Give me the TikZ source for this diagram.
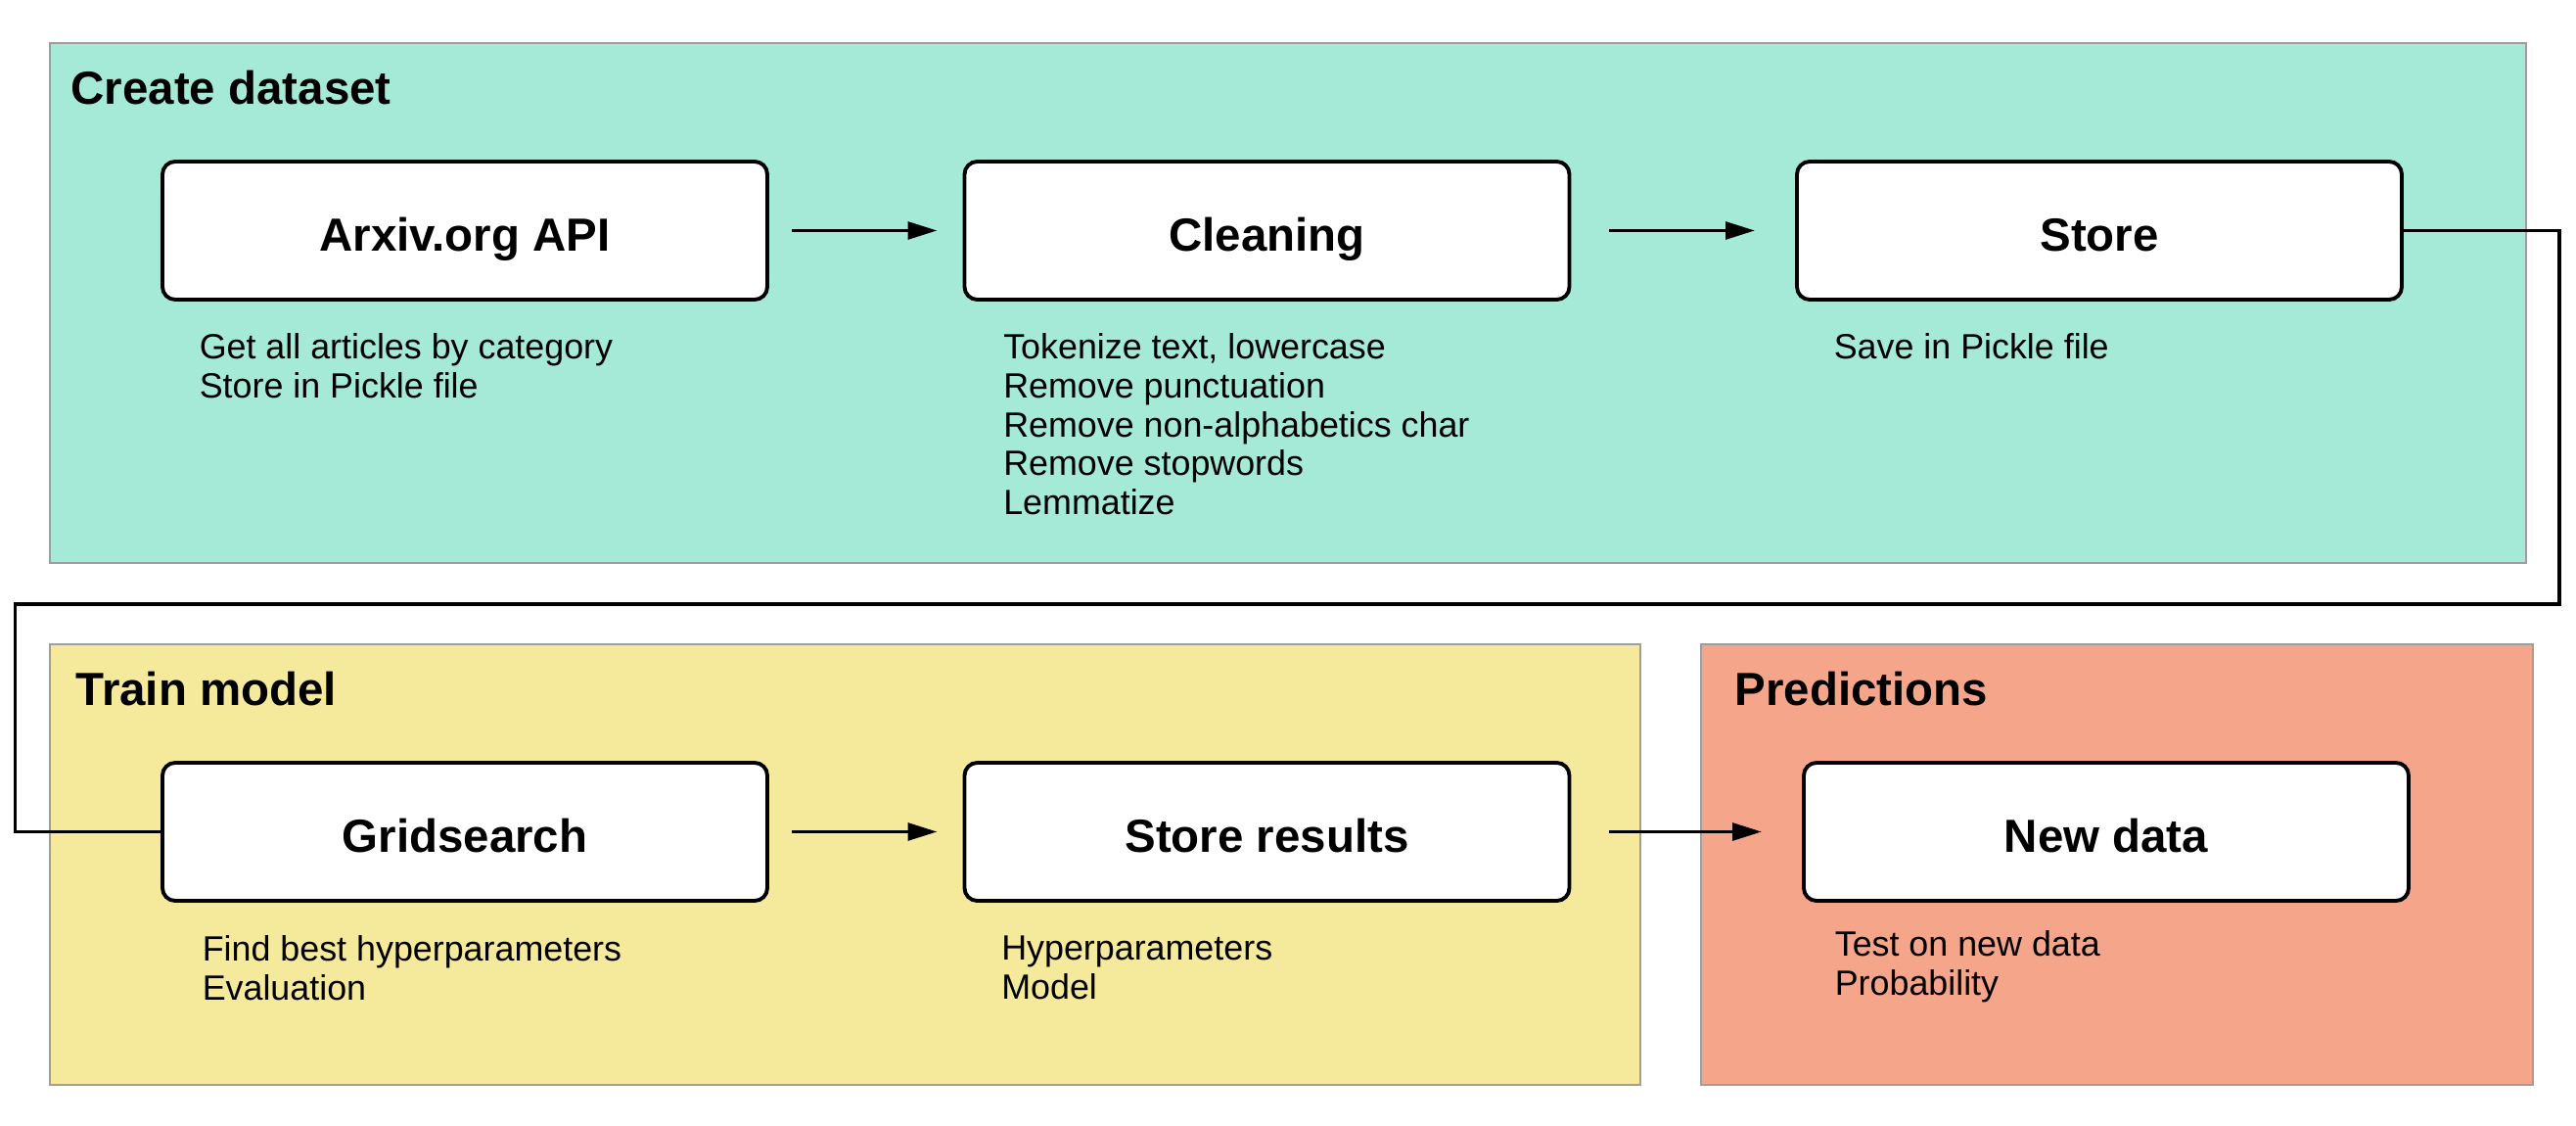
\documentclass[tikz,border=0pt]{standalone}
\usepackage{fontspec}
\setmainfont{Liberation Sans}
\usetikzlibrary{positioning,arrows.meta}

\definecolor{createbg}{HTML}{A5EAD7}
\definecolor{trainbg}{HTML}{F5E99B}
\definecolor{predictbg}{HTML}{F5A68A}
\definecolor{panelline}{HTML}{9E9E9E}

\begin{document}
\begin{tikzpicture}[
    panel/.style={draw=panelline, line width=0.5pt, anchor=north west, inner sep=0pt},
    paneltitle/.style={anchor=base west, inner sep=0pt, font=\fontsize{13.5}{16}\selectfont\bfseries},
    stepbox/.style={draw, fill=white, line width=1.1pt, rounded corners=0.13cm,
      minimum width=6.18cm, minimum height=1.41cm, text height=12.2pt, text depth=0pt,
      font=\fontsize{13.5}{16}\selectfont\bfseries},
    desc/.style={align=left, inner sep=0pt, font=\fontsize{10.2}{11.3}\selectfont},
    flow/.style={-{Triangle[length=8.5pt,width=5pt]}, line width=1.1pt,
      shorten <=0.23cm, shorten >=0.26cm},
    link/.style={line width=1.1pt}
  ]
  \useasboundingbox (0,0) rectangle (26.32,-11.5);

  % the three stages
  \node[panel, fill=createbg, minimum width=25.3cm, minimum height=5.31cm] (create) at (0.5,-0.43) {};
  \node[panel, fill=trainbg, minimum width=16.25cm, minimum height=4.5cm] (train) at (0.5,-6.57) {};
  \node[panel, fill=predictbg, minimum width=8.5cm, minimum height=4.5cm] (predict) at (17.37,-6.57) {};

  \node[paneltitle] (createtitle) at ([shift={(0.22,-0.64)}]create.north west) {Create dataset};
  \node[paneltitle] (traintitle) at ([shift={(0.27,-0.64)}]train.north west) {Train model};
  \node[paneltitle] (predicttitle) at ([shift={(0.35,-0.64)}]predict.north west) {Predictions};

  % steps
  \node[stepbox] (arxiv) at (4.75,-2.355) {Arxiv.org API};
  \node[stepbox] (cleaning) at (12.945,-2.355) {Cleaning};
  \node[stepbox] (store) at (21.45,-2.355) {Store};
  \node[stepbox] (grid) at (4.75,-8.495) {Gridsearch};
  \node[stepbox] (results) at (12.945,-8.495) {Store results};
  \node[stepbox] (newdata) at (21.52,-8.495) {New data};

  % what each step does
  \node[desc, below right=0.32 and 0.39 of arxiv.south west] (arxivtxt)
    {Get all articles by category\\Store in Pickle file};
  \node[desc, below right=0.32 and 0.41 of cleaning.south west] (cleaningtxt)
    {Tokenize text, lowercase\\Remove punctuation\\Remove non-alphabetics char\\Remove stopwords\\Lemmatize};
  \node[desc, below right=0.32 and 0.39 of store.south west] (storetxt)
    {Save in Pickle file};
  \node[desc, below right=0.33 and 0.42 of grid.south west] (gridtxt)
    {Find best hyperparameters\\Evaluation};
  \node[desc, below right=0.33 and 0.39 of results.south west] (resultstxt)
    {Hyperparameters\\Model};
  \node[desc, below right=0.28 and 0.33 of newdata.south west] (newdatatxt)
    {Test on new data\\Probability};

  % arrows
  \foreach \a/\b in {arxiv/cleaning, grid/results} {
    \draw[flow] (\a) -- (\b);
  }
  \foreach \a/\b in {cleaning/store, results/newdata} {
    \draw[flow, shorten <=0.39cm, shorten >=0.41cm] (\a) -- (\b);
  }

  \coordinate (turnR) at (26.15,-6.17);
  \coordinate (turnL) at (0.155,-6.17);
  \draw[link] (store.east) -| (turnR) -- (turnL) |- (grid.west);
\end{tikzpicture}
\end{document}
